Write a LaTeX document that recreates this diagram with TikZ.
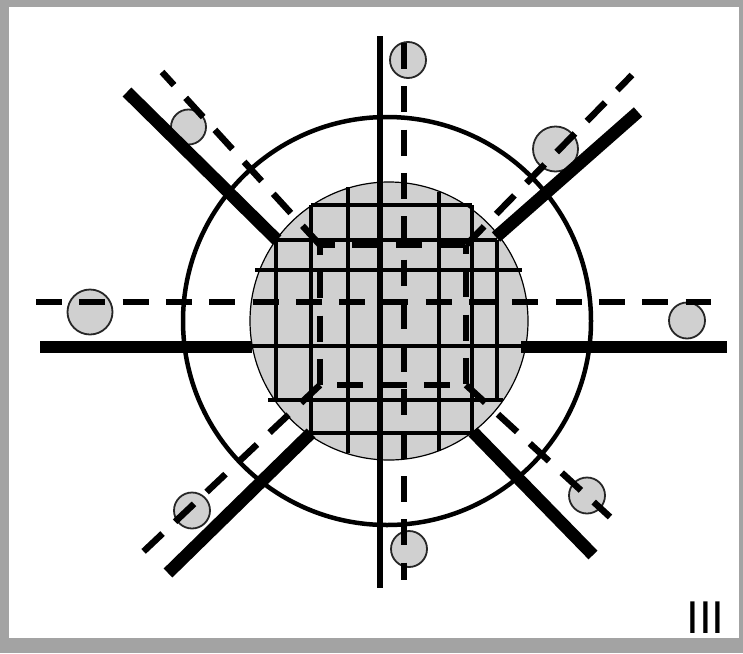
\documentclass[tikz,border=0pt]{standalone}
\usepackage{fontspec}
\newfontfamily\plainsans{Liberation Sans}
\definecolor{discgray}{RGB}{208,208,208}
\definecolor{framegray}{RGB}{163,163,163}
\begin{document}
\begin{tikzpicture}[x=1pt,y=-1pt,
 mesh/.style={line width=3.6pt},
 beam/.style={line width=12.5pt},
 rail/.style={line width=6.5pt,dash pattern=on 26pt off 17.3pt},
 ball/.style={circle,draw=black!85,line width=1.8pt,fill=discgray,inner sep=0pt,minimum size=#1}]
\useasboundingbox (0,0) rectangle (743,653);
\fill[framegray] (0,0) rectangle (743,653);
\fill[white] (9,7) rectangle (739,638);
\draw[line width=4.5pt] (387,321) circle[radius=204pt];
\fill[discgray] (389,321) circle[radius=139pt];
\draw[line width=1.2pt] (389,321) circle[radius=139pt];
\foreach \y/\a/\b in {205/311/472,240/276/497,270/255/522,346/252/526,400/268/503,433/311/472}
 {\draw[mesh] (\a,\y)--(\b,\y);}
\foreach \x/\a/\b in {276/240/400,311/205/433,348/187/453,439/192/451,472/205/433,497/240/400}
 {\draw[mesh] (\x,\a)--(\x,\b);}
\draw[line width=6.5pt] (380,36)--(380,588);
\node[ball=36pt] (btop) at (408,60) {};
\node[ball=45pt] (bleft) at (90,312) {};
\node[ball=36pt] (bright) at (687,320.5) {};
\node[ball=36pt] (bbottom) at (409,549) {};
\node[ball=35pt] (btl) at (188.5,127) {};
\node[ball=45pt] (btr) at (555.5,149) {};
\node[ball=36pt] (bbl) at (192,510.5) {};
\node[ball=36pt] (bbr) at (587,495.5) {};
\draw[beam] (40,347)--(252,347);
\draw[beam] (521,347)--(727,347);
\draw[beam] (127,92)--(277,240);
\draw[beam] (638,112)--(496,237);
\draw[beam] (168,573)--(311,433);
\draw[beam] (473,432)--(593,555);
\coordinate (qtl) at (320,245);
\coordinate (qtr) at (466,245);
\coordinate (qbl) at (320,385);
\coordinate (qbr) at (466,385);
\draw[rail,dash phase=11pt] (qtl)--(qtr);
\draw[rail,dash phase=16pt] (qtl)--(qbl);
\draw[rail,dash phase=17pt] (qtr)--(qbr);
\draw[rail,dash phase=26pt] (qbl)--(qbr);
\draw[rail] (qtl)--(162,72);
\draw[rail] (qtr)--(632,75);
\draw[rail] (qbl)--(143,552);
\draw[rail] (qbr)--(610,517);
\draw[rail] (36,302)--(711,302);
\draw[rail] (404,43)--(404,580);
\node[font=\plainsans\fontsize{46}{46}\selectfont,inner sep=0pt,anchor=base] (num) at (705.5,633) {III};
\end{tikzpicture}
\end{document}
